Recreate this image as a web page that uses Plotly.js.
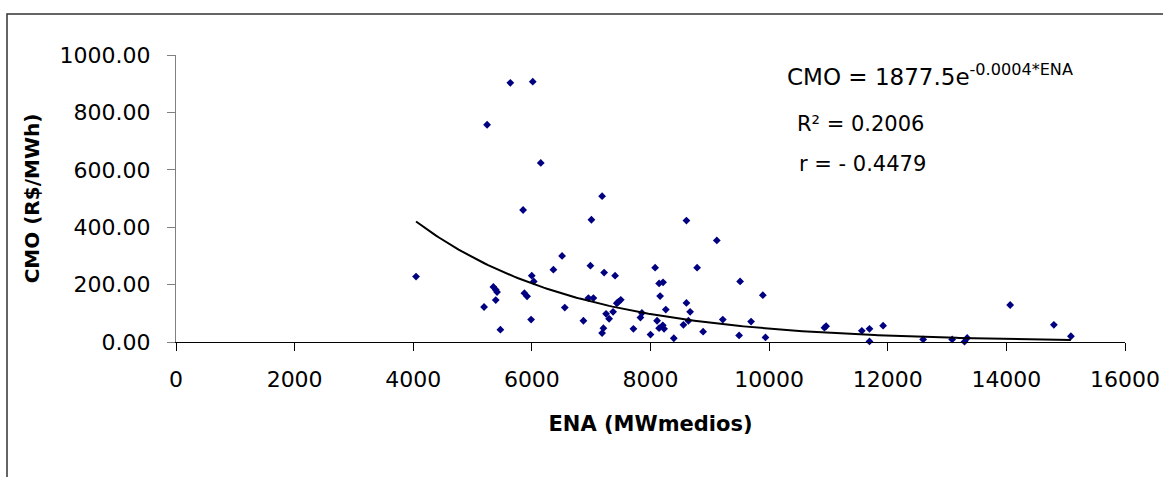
<!DOCTYPE html>
<html>
<head>
<meta charset="utf-8">
<script src="https://cdn.plot.ly/plotly-3.0.1.min.js"></script>
<style>html,body{margin:0;padding:0;background:#fff;}#chart{width:1163px;height:477px;}</style>
</head>
<body>
<div id="chart"></div>
<script>
// ENA (MWmedios) values
const ena = [4047,5194,5245,5351,5391,5413,5391,5469,5637,5852,5874,5919,5987,5998,6015,6032,6150,6363,6509,6555,6869,6953,6987,7004,7037,7184,7184,7206,7218,7251,7302,7369,7403,7432,7459,7499,7712,7830,7855,8000,8078,8111,8145,8162,8145,8207,8212,8229,8258,8393,8555,8606,8606,8639,8668,8786,8887,9118,9219,9494,9511,9696,9894,9938,10933,10961,11563,11692,11692,11922,12597,13086,13339,13294,14064,14801,15088];
// CMO (R$/MWh) values
const cmo = [228,122,757,192,182,174,146,43,903,460,170,159,78,231,907,211,624,252,300,120,74,153,266,426,153,508,31,48,242,98,81,105,231,135,140,147,46,85,101,26,259,74,204,160,48,58,208,46,113,13,60,423,136,74,105,259,36,354,78,23,211,71,163,16,50,55,39,46,2,57,9,9,14,1,129,60,20];
// exponential trendline coefficients (as drawn)
const trendA = 1877.5;
const trendB = -0.00037;
const xTickVals = [0,2000,4000,6000,8000,10000,12000,14000,16000];
const yTickVals = [0,200,400,600,800,1000];
const eqText = "CMO = 1877.5e<sup>-0.0004*ENA</sup>";
const r2Text = "R² = 0.2006";
const rText = "r = - 0.4479";

const xMin = Math.min(...ena), xMax = Math.max(...ena);
const tx = [], ty = [];
for (let i = 0; i <= 200; i++) {
  const x = xMin + (xMax - xMin) * i / 200;
  tx.push(x); ty.push(trendA * Math.exp(trendB * x));
}

// pixel helpers for layout placement
const L = 176, R = 1125, T = 55, B = 342;
const px = v => (v - L) / (R - L);
const py = v => (B - v) / (B - T);

const FONT = "DejaVu Sans, Arial, sans-serif";

const traces = [
  {x: ena, y: cmo, type: 'scatter', mode: 'markers', cliponaxis: false,
   marker: {symbol: 'diamond', size: 6, color: '#000080'}, hoverinfo: 'x+y'},
  {x: tx, y: ty, type: 'scatter', mode: 'lines', cliponaxis: false,
   line: {color: '#000000', width: 2}, hoverinfo: 'skip'}
];

const layout = {
  width: 1163, height: 477,
  margin: {l: L, r: 1163 - R, t: T, b: 477 - B},
  paper_bgcolor: '#ffffff', plot_bgcolor: '#ffffff',
  showlegend: false,
  font: {family: FONT, color: '#000'},
  xaxis: {
    range: [0, 16000], tickvals: xTickVals, ticktext: xTickVals.map(String),
    ticks: 'outside', ticklen: 8, tickcolor: '#000', tickwidth: 1,
    showline: true, linecolor: '#000', linewidth: 1,
    showgrid: false, zeroline: false, automargin: false,
    tickfont: {family: FONT, size: 22, color: '#000'}, ticklabelstandoff: 10,
    title: {text: '<b>ENA (MWmedios)</b>', font: {family: FONT, size: 21, color: '#000'}, standoff: 24}
  },
  yaxis: {
    range: [0, 1000], tickvals: yTickVals, ticktext: yTickVals.map(v => v.toFixed(2)),
    ticks: 'outside', ticklen: 8, tickcolor: '#808080', tickwidth: 1,
    showline: true, linecolor: '#808080', linewidth: 1,
    showgrid: false, zeroline: false, automargin: false,
    tickfont: {family: FONT, size: 22, color: '#000'}, ticklabelstandoff: 12,
    title: {text: '<b>CMO (R$/MWh)</b>', font: {family: FONT, size: 20, color: '#000'}, standoff: 14}
  },
  annotations: [
    {xref: 'paper', yref: 'paper', x: px(785), y: py(75), xanchor: 'left', yanchor: 'middle',
     text: eqText, showarrow: false, font: {family: FONT, size: 23, color: '#000'}},
    {xref: 'paper', yref: 'paper', x: px(795), y: py(124), xanchor: 'left', yanchor: 'middle',
     text: r2Text, showarrow: false, font: {family: FONT, size: 21, color: '#000'}},
    {xref: 'paper', yref: 'paper', x: px(797), y: py(164), xanchor: 'left', yanchor: 'middle',
     text: rText, showarrow: false, font: {family: FONT, size: 21, color: '#000'}}
  ],
  shapes: [
    {type: 'path', xref: 'paper', yref: 'paper',
     path: 'M ' + px(7) + ' ' + py(480) + ' L ' + px(7) + ' ' + py(14) + ' L ' + px(1166) + ' ' + py(14),
     line: {color: '#333333', width: 1.5}}
  ]
};

Plotly.newPlot('chart', traces, layout, {displayModeBar: false, staticPlot: true});
</script>
</body>
</html>
